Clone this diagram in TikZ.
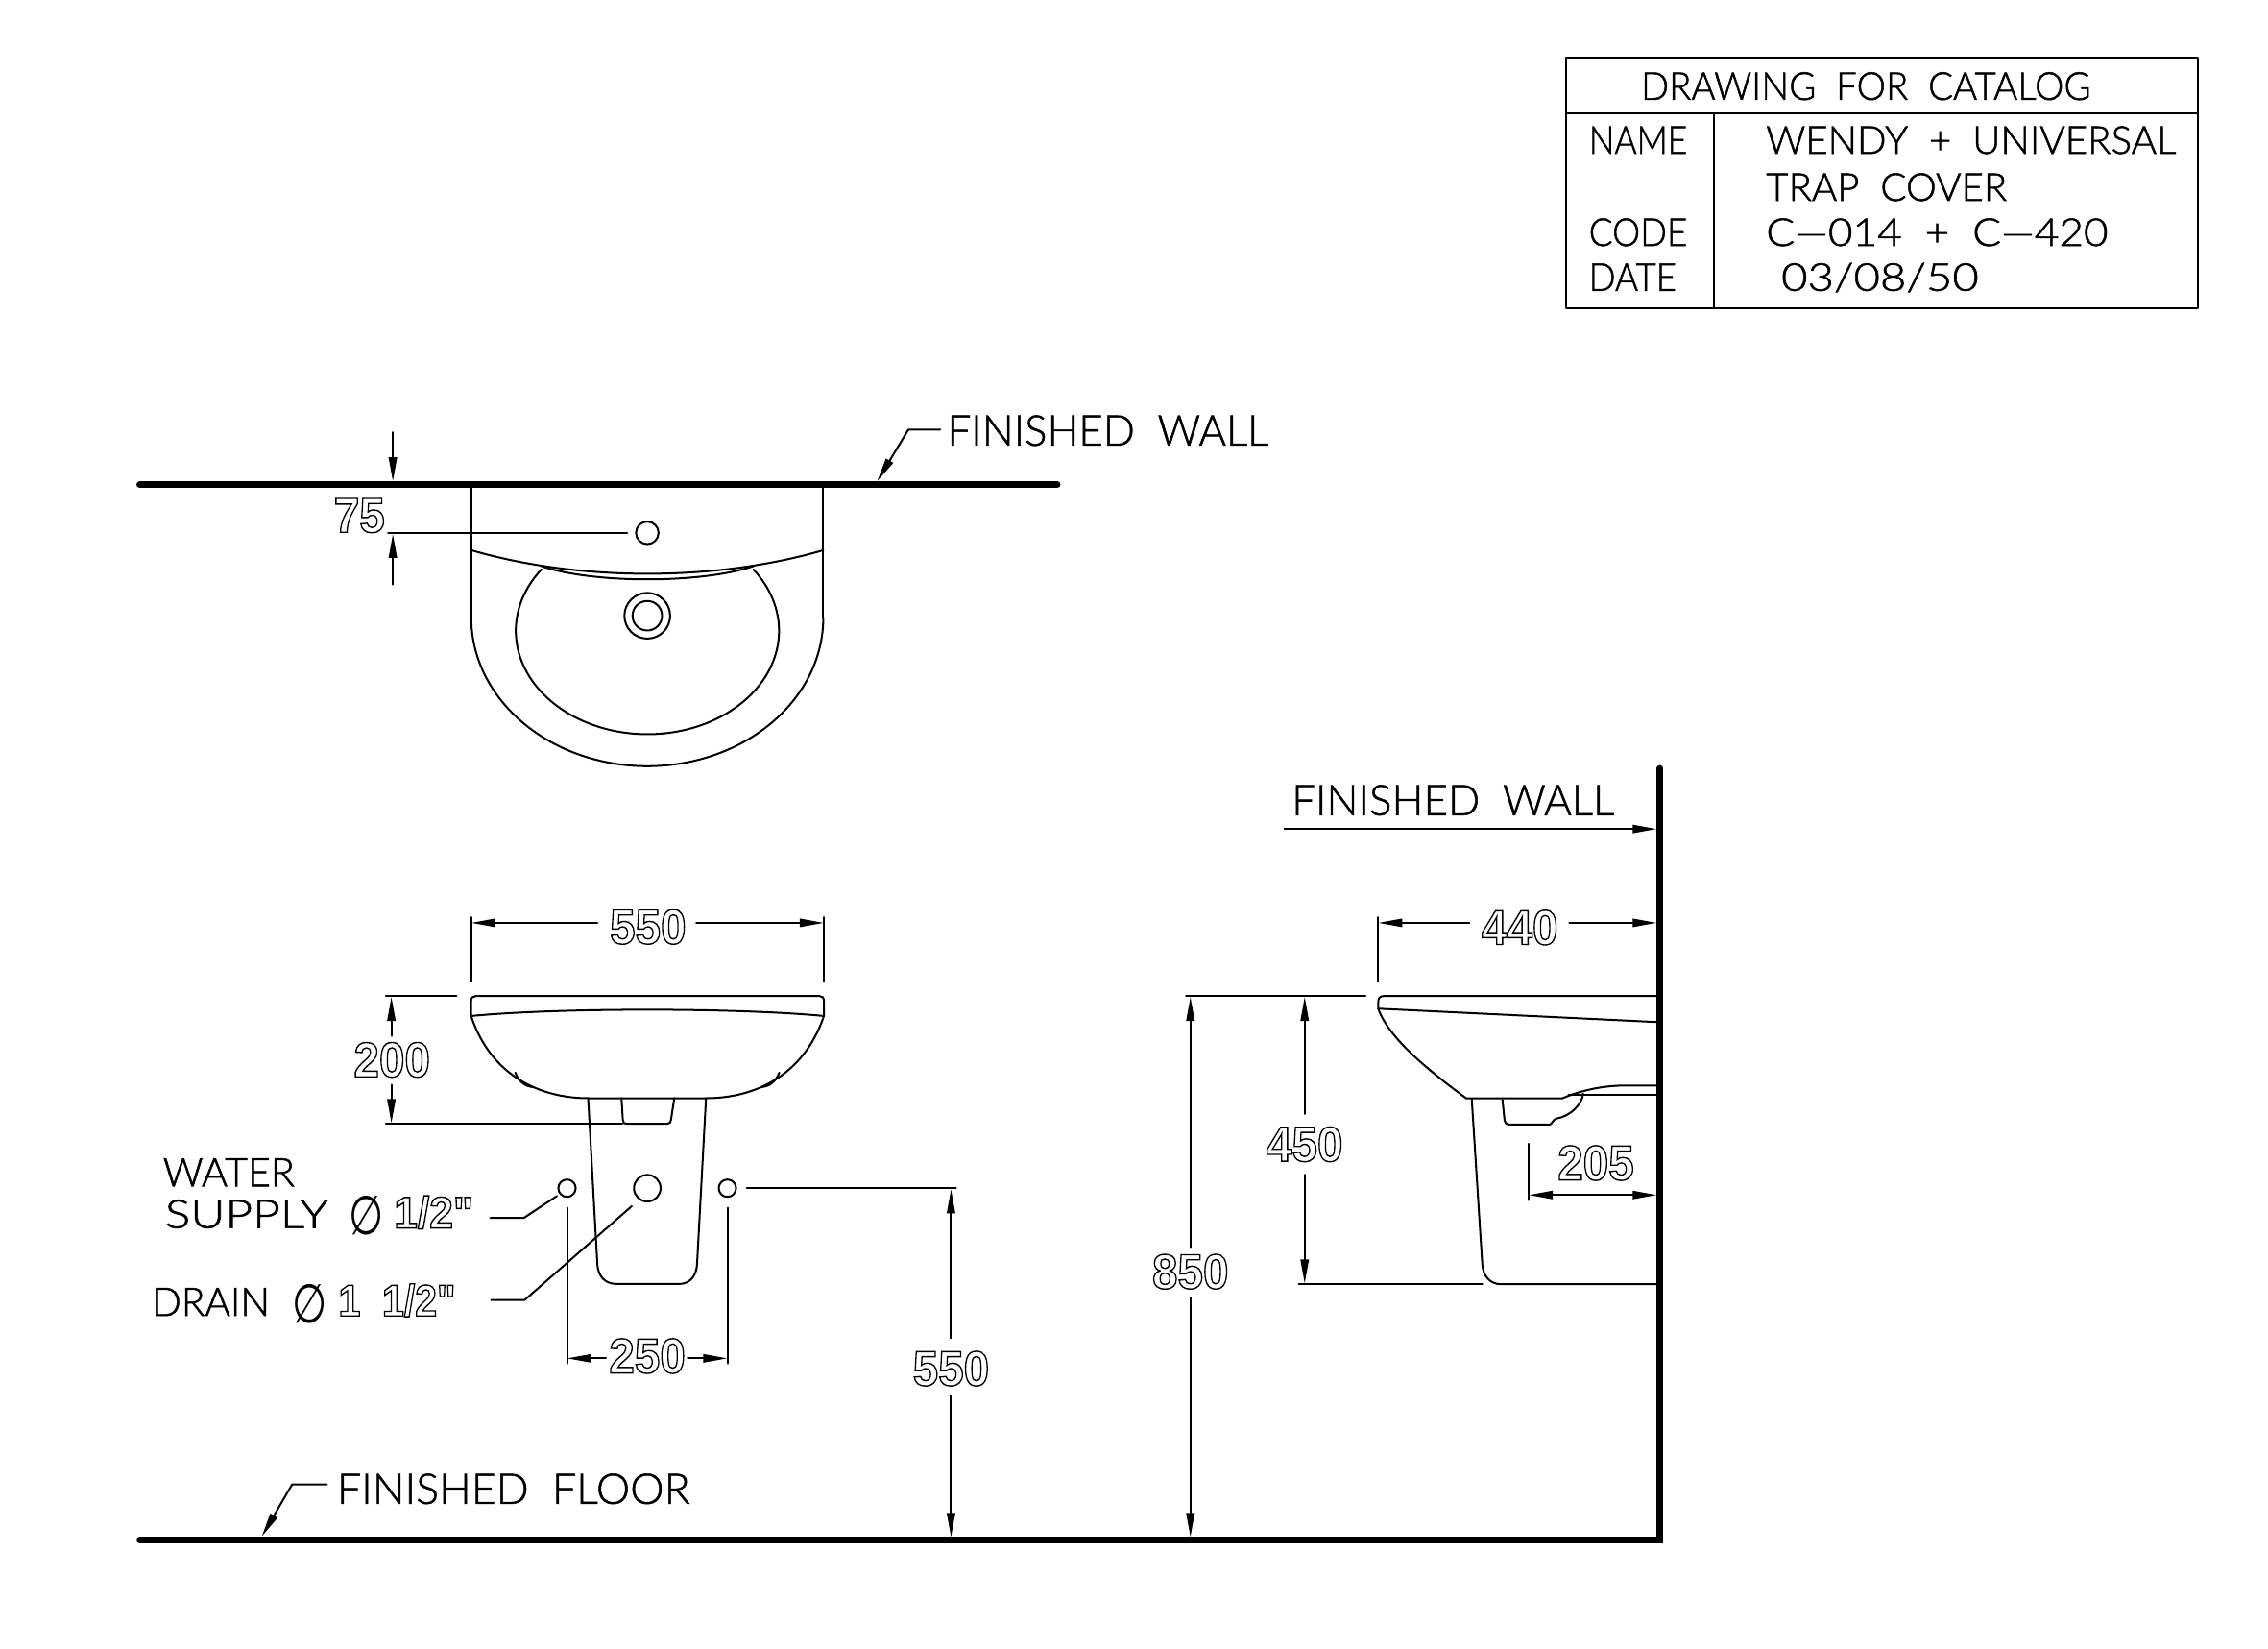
\documentclass[tikz,border=0pt]{standalone}
\usepackage{fontspec}
\usepackage{graphicx}
\usetikzlibrary{arrows.meta}
\newfontfamily\cadf{Lato Light}
\newfontfamily\holf{Liberation Sans Bold}
\newfontfamily\phif{DejaVu Sans}
\newlength\un \setlength\un{0.75pt}
\newcommand\hollow[1]{\special{pdf:code q 1 Tr 0.7 w}#1\special{pdf:code 0 Tr Q}}
\newcommand\firm[1]{\special{pdf:code q 2 Tr 0.25 w}#1\special{pdf:code 0 Tr Q}}
% thin text: name, x, baseline y, width, size, text
\newcommand\Tx[6]{\node[txt] (#1) at (#2,#3) {\resizebox{#4\un}{\height}{\fontsize{#5pt}{#5pt}\cadf\firm{#6}}};}
% hollow dimension number centred: name, x, y, text
\newcommand\Hn[4]{\node[num] (#1) at (#2,#3) {\scalebox{0.93}[1]{\fontsize{25.5pt}{25.5pt}\holf\hollow{#4}}};}
% hollow text, base west: name, x, y, width, text
\newcommand\Hb[5]{\node[txt] (#1) at (#2,#3) {\resizebox{#4\un}{\height}{\fontsize{23pt}{23pt}\holf\hollow{#5}}};}
% diameter sign: name, x, y, width
\newcommand\Ph[4]{\node[num] (#1) at (#2,#3) {\resizebox*{#4\un}{27\un}{\fontsize{22pt}{22pt}\phif ∅}};}
\tikzset{
 x=0.75pt,y=-0.75pt,
 thin line/.style={line width=1pt,line cap=round,line join=round},
 wall/.style={line width=3.3pt,line cap=round},
 dim/.style={thin line,-{Triangle[length=12.5pt,width=4.2pt]}},
 ddim/.style={thin line,{Triangle[length=12.5pt,width=4.2pt]}-{Triangle[length=12.5pt,width=4.2pt]}},
 txt/.style={anchor=base west,inner sep=0pt,outer sep=0pt},
 num/.style={anchor=center,inner sep=0pt,outer sep=0pt},
}
\begin{document}
\begin{tikzpicture}
\useasboundingbox (0,0) rectangle (1568,1139.8);
% title block
\draw[thin line] (1083,39.9) rectangle (1519.4,213.1);
\draw[thin line] (1083,78.4) -- (1519.4,78.4);
\draw[thin line] (1184.8,78.4) -- (1184.8,213.1);
\Tx{t1}{1134.5}{69}{311}{20}{DRAWING~~FOR~~CATALOG}
\Tx{t2}{1098.5}{106.3}{68}{20}{NAME}
\Tx{t3}{1221}{106.3}{283.5}{20}{WENDY~~+~~UNIVERSAL}
\Tx{t4}{1221}{138.8}{166.5}{20}{TRAP~~COVER}
\Tx{t5}{1098.5}{170}{68}{20}{CODE}
\Tx{t6}{1221}{170}{236.5}{20}{C—014~~+~~C—420}
\Tx{t7}{1098.5}{201}{60.5}{20}{DATE}
\Tx{t8}{1231.5}{201}{136.5}{20}{03/08/50}
% plan view
\draw[wall] (96.5,335) -- (731,335);
\draw[thin line] (325.8,335) -- (325.8,427);
\draw[thin line] (569.2,335) -- (569.2,427);
\draw[thin line] plot[domain=180:0,samples=90] ({447.5+121.7*cos(\x)},{427+102.6*sin(\x)});
\draw[thin line] (325.8,380.3) .. controls (400,402) and (495,402) .. (569.2,380.3);
\draw[thin line] (374.3,391.3) .. controls (410,403.5) and (485,403.5) .. (521,391.3);
\draw[thin line] plot[domain=216.4:-36.4,samples=110] ({447.6+91*cos(\x)},{436+71.5*sin(\x)});
\node[draw,thin line,circle,minimum size=15.6\un,inner sep=0pt] (hole) at (447.5,368.3) {};
\node[draw,thin line,circle,minimum size=31.6\un,inner sep=0pt] (drainA) at (447.5,425.6) {};
\node[draw,thin line,circle,minimum size=20.4\un,inner sep=0pt] (drainB) at (447.5,425.6) {};
\draw[thin line] (268.2,368.3) -- (433.6,368.3);
\draw[dim] (271.6,298.8) -- (271.6,332.8);
\draw[dim] (271.6,404) -- (271.6,369);
\Hn{n75}{248.5}{356.4}{75}
\draw[dim] (650,297) -- (628,297) -- (606.4,332.7);
\Tx{fw1}{655}{308}{222}{22}{FINISHED~~WALL}
% front view
\draw[thin line] (325.7,702.3) -- (325.7,692) .. controls (325.7,689.5) and (327,688.5) .. (329,688.5) -- (566.5,688.5) .. controls (568.5,688.5) and (569.6,689.5) .. (569.6,692) -- (569.6,702.3);
\draw[thin line] (325.7,702.3) .. controls (385,696.5) and (510,696.5) .. (569.6,702.3);
\draw[thin line] (325.7,702.3) .. controls (340,745) and (375,759) .. (406.6,759.1) -- (488.4,759.1) .. controls (520,759) and (555,745) .. (569.6,702.3);
\draw[thin line] (356.2,741.4) .. controls (359,748) and (363,751) .. (369,751.5);
\draw[thin line] (538.8,741.4) .. controls (536,748) and (532,751) .. (526,751.5);
\draw[thin line] (429.7,759) -- (430.6,774) .. controls (430.8,776) and (431.5,776.8) .. (433,776.8) -- (461,776.8) .. controls (463,776.8) and (463.7,776) .. (463.9,774) -- (466.2,759);
\draw[thin line] (406.6,759) -- (413,874) .. controls (413.6,882) and (418,887.5) .. (426.4,887.5) -- (469.4,887.5) .. controls (477,887.5) and (481.4,882) .. (481.9,874) -- (488.1,759);
\draw[thin line] (325.7,634) -- (325.7,678.4);
\draw[thin line] (569.6,634) -- (569.6,678.4);
\draw[dim] (413,637.9) -- (325.7,637.9);
\draw[dim] (481.3,637.9) -- (569.6,637.9);
\Hn{n550a}{448}{640.7}{550}
\draw[thin line] (266.7,688.5) -- (315.6,688.5);
\draw[thin line] (266.7,776.8) -- (430.3,776.8);
\draw[dim] (270.6,716) -- (270.6,689);
\draw[dim] (270.6,749.8) -- (270.6,776.4);
\Hn{n200}{271}{732.6}{200}
\node[draw,thin line,circle,minimum size=12\un,inner sep=0pt] (sl) at (392,821.3) {};
\node[draw,thin line,circle,minimum size=18.4\un,inner sep=0pt] (dr) at (447.5,821.3) {};
\node[draw,thin line,circle,minimum size=12\un,inner sep=0pt] (sr) at (502.9,821.3) {};
\draw[thin line] (339,841.9) -- (362.1,841.9) -- (385,826.7);
\draw[thin line] (339.6,898.6) -- (362.7,898.6) -- (436.8,833.7);
\draw[thin line] (392,834.8) -- (392,942.4);
\draw[thin line] (502.9,834.8) -- (502.9,942.4);
\draw[dim] (419,938.9) -- (392,938.9);
\draw[dim] (475.4,938.9) -- (502.9,938.9);
\Hn{n250}{447.5}{937.3}{250}
\Tx{w1}{112.7}{820}{91}{20.5}{WATER}
\Tx{w2}{114}{848.8}{113}{20.5}{SUPPLY}
\Ph{w3}{253}{840}{24}
\Hb{w4}{272.3}{848.8}{55}{1/2"}
\Tx{d1}{105}{909.6}{81.5}{20.5}{DRAIN}
\Ph{d2}{214}{901}{24}
\Hb{d3}{234}{909.6}{81}{1~~1/2"}
\draw[thin line] (516.3,821.3) -- (661,821.3);
\draw[dim] (657.5,925) -- (657.5,822);
\draw[dim] (657.5,965) -- (657.5,1062.5);
\Hn{n550b}{657.5}{946}{550}
% floor and side wall
\draw[wall] (96.5,1064.5) -- (1147.6,1064.5) -- (1147.6,531);
\draw[dim] (226,1026) -- (202,1026) -- (181,1062);
\Tx{ff}{233}{1039.5}{244}{22}{FINISHED~~FLOOR}
% side view
\Tx{fw2}{893}{563.5}{223}{22}{FINISHED~~WALL}
\draw[dim] (888,573) -- (1145.4,573);
\draw[thin line] (952.8,634) -- (952.8,678.4);
\draw[dim] (1015.9,637.9) -- (952.8,637.9);
\draw[dim] (1085,637.9) -- (1145.4,637.9);
\Hn{n440}{1050.7}{641.2}{440}
\draw[thin line] (1146,688.5) -- (956.6,688.5) .. controls (954,688.5) and (952.8,690) .. (952.8,692.8) -- (952.8,697.2) -- (1146,706.5);
\draw[thin line] (952.8,697.2) .. controls (960,717) and (985,738) .. (1013.7,759.2) -- (1080,759.2) .. controls (1090,755) and (1105,750.3) .. (1125,750.3) -- (1146,750.3);
\draw[thin line] (1084.5,757) -- (1146,757);
\draw[thin line] (1038.7,760) -- (1040.2,774.6) .. controls (1040.5,776.5) and (1041.5,777.3) .. (1043.6,777.3) -- (1071.2,777.3) .. controls (1073,777.3) and (1073.5,773.8) .. (1076,773.2) .. controls (1086,771.5) and (1094,763) .. (1094.5,755.8);
\draw[thin line] (1017.5,759.6) -- (1024.8,874.2) .. controls (1025.5,882) and (1030,887.7) .. (1038,887.7) -- (1146,887.7);
\draw[thin line] (820,688.5) -- (944,688.5);
\draw[thin line] (898,887.7) -- (1024.8,887.7);
\draw[dim] (902,770) -- (902,689);
\draw[dim] (902,812) -- (902,887.2);
\Hn{n450}{902}{791}{450}
\draw[dim] (823,862) -- (823,689);
\draw[dim] (823,897) -- (823,1062.5);
\Hn{n850}{823}{879}{850}
\draw[thin line] (1056.8,790.6) -- (1056.8,829.5);
\draw[ddim] (1056.8,826) -- (1145.4,826);
\Hn{n205}{1103.3}{803.9}{205}
\end{tikzpicture}
\end{document}
